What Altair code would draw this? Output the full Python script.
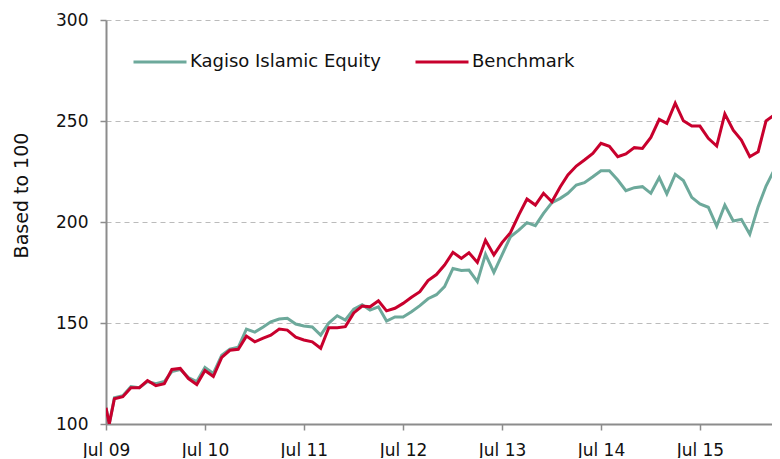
import altair as alt
import pandas as pd

# Observation dates (first two points are the base period)
dates = [
    "2009-07-01", "2009-07-13",
    "2009-08-01", "2009-09-01", "2009-10-01", "2009-11-01", "2009-12-01",
    "2010-01-01", "2010-02-01", "2010-03-01", "2010-04-01", "2010-05-01", "2010-06-01",
    "2010-07-01", "2010-08-01", "2010-09-01", "2010-10-01", "2010-11-01", "2010-12-01",
    "2011-01-01", "2011-02-01", "2011-03-01", "2011-04-01", "2011-05-01", "2011-06-01",
    "2011-07-01", "2011-08-01", "2011-09-01", "2011-10-01", "2011-11-01", "2011-12-01",
    "2012-01-01", "2012-02-01", "2012-03-01", "2012-04-01", "2012-05-01", "2012-06-01",
    "2012-07-01", "2012-08-01", "2012-09-01", "2012-10-01", "2012-11-01", "2012-12-01",
    "2013-01-01", "2013-02-01", "2013-03-01", "2013-04-01", "2013-05-01", "2013-06-01",
    "2013-07-01", "2013-08-01", "2013-09-01", "2013-10-01", "2013-11-01", "2013-12-01",
    "2014-01-01", "2014-02-01", "2014-03-01", "2014-04-01", "2014-05-01", "2014-06-01",
    "2014-07-01", "2014-08-01", "2014-09-01", "2014-10-01", "2014-11-01", "2014-12-01",
    "2015-01-01", "2015-02-01", "2015-03-01", "2015-04-01", "2015-05-01", "2015-06-01",
    "2015-07-01", "2015-08-01", "2015-09-01", "2015-10-01", "2015-11-01", "2015-12-01",
    "2016-01-01", "2016-02-01", "2016-03-01", "2016-04-01", "2016-05-01",
]

kagiso = [
    108, 100,
    113, 114, 118.5, 118, 121,
    120, 121, 126, 127, 123, 121,
    128, 125, 134, 137, 138, 147,
    145.5, 148, 150.6, 152, 152.3, 149.5,
    148.5, 148, 144, 150, 153.6, 151.5,
    156.8, 159, 156.4, 158, 151, 153,
    153, 155.6, 158.6, 162, 164, 168,
    177, 176, 176.2, 170.5, 184, 175,
    183.7, 192.7, 196, 199.7, 198.2, 204.3,
    209.6, 211.7, 214.2, 218.3, 219.5, 222.4,
    225.4, 225.4, 220.8, 215.5, 217, 217.5,
    214.2, 222, 213.9, 223.6, 220.5, 212.2,
    208.9, 207.3, 198, 208.4, 200.5, 201.3,
    193.9, 207.6, 217.8, 226, 228,
]

benchmark = [
    108, 100,
    112.5, 113.5, 118, 118, 121.5,
    119, 120, 127, 127.5, 122.5, 119.5,
    126.5, 123.5, 133, 136.5, 137, 143.5,
    140.7, 142.5, 144, 147, 146.5, 143,
    141.6, 140.7, 137.5, 147.7, 147.7, 148.2,
    155, 158.4, 158, 161, 156, 157.3,
    159.7, 162.7, 165.5, 171, 174, 178.7,
    185, 182, 184.8, 180, 191, 183.7,
    189.8, 194.7, 203.5, 211.4, 208.4, 214.2,
    210, 217.5, 223.3, 227.7, 230.7, 234,
    239, 237.5, 232.3, 233.7, 236.8, 236.4,
    241.9, 250.8, 248.8, 258.8, 250.1, 247.5,
    247.5, 241.4, 237.6, 253.5, 245.5, 240.6,
    232.3, 234.8, 250.1, 253, 256,
]

series_names = ["Kagiso Islamic Equity", "Benchmark"]
series_colors = ["#6DA99B", "#C8002D"]
tick_years = [2009, 2010, 2011, 2012, 2013, 2014, 2015]
y_ticks = [100, 150, 200, 250, 300]

df = pd.concat([
    pd.DataFrame({"date": dates, "value": kagiso, "series": series_names[0]}),
    pd.DataFrame({"date": dates, "value": benchmark, "series": series_names[1]}),
])

FONT = "DejaVu Sans"

chart = alt.Chart(df).mark_line(strokeWidth=3, clip=True).encode(
    x=alt.X(
        "date:T",
        title=None,
        scale=alt.Scale(
            type="utc",
            domain=[alt.DateTime(year=2009, month=7, date=1, utc=True),
                    alt.DateTime(year=2016, month=3, date=23, utc=True)],
        ),
        axis=alt.Axis(
            values=[alt.DateTime(year=y, month=7, date=1, utc=True) for y in tick_years],
            format="%b %y",
            grid=False,
            tickSize=6,
            labelPadding=12,
            labelFlush=False,
        ),
    ),
    y=alt.Y(
        "value:Q",
        title="Based to 100",
        scale=alt.Scale(domain=[100, 300], nice=False, zero=False),
        axis=alt.Axis(
            values=y_ticks,
            grid=True,
            gridDash=[5, 4],
            gridColor="#bbbbbb",
            gridWidth=1,
            tickSize=6,
            labelPadding=12,
            titleX=-79,
            titleY=175,
            titleFontSize=19,
            titleBaseline="alphabetic",
            titleAngle=270,
            titleAlign="center",
        ),
    ),
    color=alt.Color(
        "series:N",
        sort=series_names,
        scale=alt.Scale(domain=series_names, range=series_colors),
        legend=alt.Legend(
            title=None,
            orient="none",
            legendX=26,
            legendY=14,
            direction="horizontal",
            symbolType="stroke",
            symbolSize=2809,
            symbolStrokeWidth=3,
            labelFontSize=18,
            labelFont=FONT,
            labelColor="#111111",
            labelOffset=2,
            labelLimit=0,
            columnPadding=28,
        ),
    ),
).properties(
    width=666,
    height=404,
    autosize=alt.AutoSizeParams(type="none"),
    padding={"left": 98, "top": 12, "right": 0, "bottom": 34},
).configure_axis(
    labelFont=FONT,
    labelFontSize=17,
    labelColor="#111111",
    titleFont=FONT,
    titleFontSize=17,
    titleFontWeight="normal",
    titleColor="#111111",
    domainColor="#8c8c8c",
    domainWidth=2,
    tickColor="#8c8c8c",
    tickWidth=1.5,
).configure_view(
    stroke=None,
)

chart.save("out.html", embed_options={"renderer": "svg", "actions": False})
